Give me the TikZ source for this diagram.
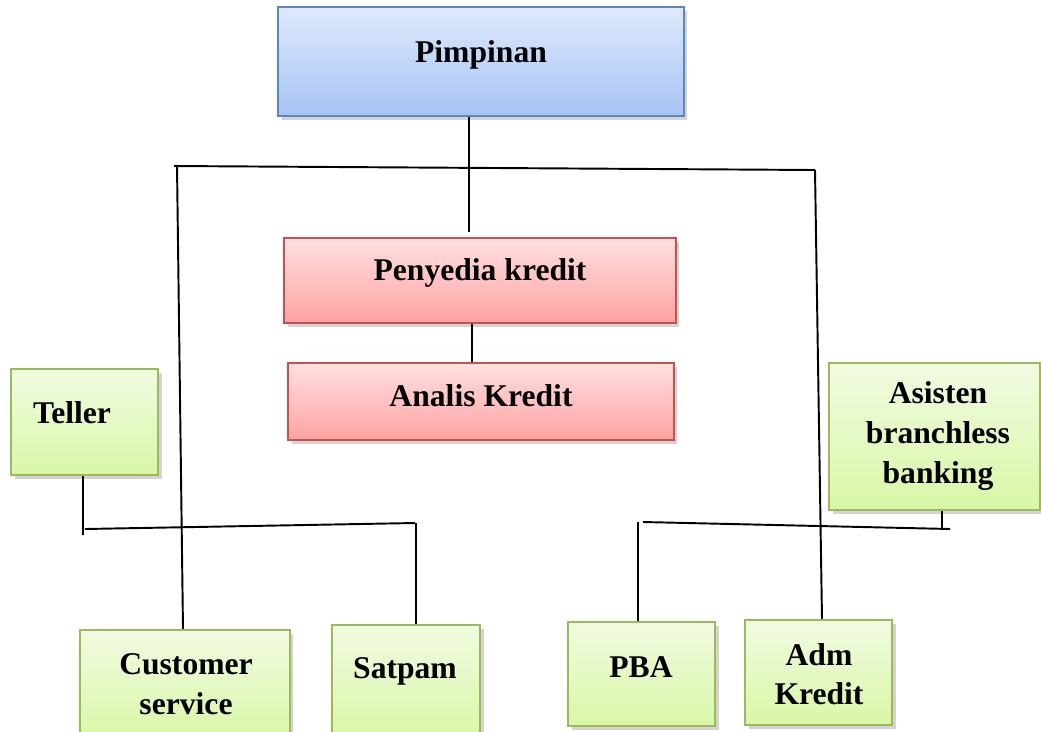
\documentclass[tikz,border=0pt]{standalone}
\usepackage{fontspec}
\setmainfont{Liberation Serif}
\usetikzlibrary{shadows}

\definecolor{blueTop}{HTML}{DFE9FB}
\definecolor{blueBot}{HTML}{A6C3F5}
\definecolor{blueLine}{HTML}{5B87BF}
\definecolor{redTop}{HTML}{FFE0E0}
\definecolor{redBot}{HTML}{FFA2A2}
\definecolor{redLine}{HTML}{C9504F}
\definecolor{greenTop}{HTML}{F1FBE2}
\definecolor{greenBot}{HTML}{D9F7A6}
\definecolor{greenLine}{HTML}{9BBB59}

\tikzset{
  box/.style={draw, rectangle, inner sep=0pt, line width=1.2pt,
    drop shadow={opacity=0.35, shadow xshift=2pt, shadow yshift=-2pt}},
  bluebox/.style={box, draw=blueLine, top color=blueTop, bottom color=blueBot},
  redbox/.style={box, draw=redLine, top color=redTop, bottom color=redBot},
  greenbox/.style={box, draw=greenLine, top color=greenTop, bottom color=greenBot},
  caption/.style={font=\bfseries\fontsize{18}{22.5}\selectfont, align=center, inner sep=0pt},
  link/.style={line width=1.1pt}
}

\begin{document}
\begin{tikzpicture}[x=0.02cm, y=-0.02cm]
    \useasboundingbox (0,0) rectangle (1041,731);

    % boxes
    \node[bluebox, minimum width=8.12cm, minimum height=2.18cm] (pimpinan) at (481,61.5) {};
    \node[redbox, minimum width=7.84cm, minimum height=1.70cm] (penyedia) at (480,280.5) {};
    \node[redbox, minimum width=7.72cm, minimum height=1.54cm] (analis) at (481,401.5) {};
    \node[greenbox, minimum width=2.94cm, minimum height=2.12cm] (teller) at (84.5,422) {};
    \node[greenbox, minimum width=4.22cm, minimum height=2.94cm] (asisten) at (934.5,436.5) {};
    \node[greenbox, minimum width=4.20cm, minimum height=2.20cm] (cs) at (185,685) {};
    \node[greenbox, minimum width=2.96cm, minimum height=2.30cm] (satpam) at (406,682.5) {};
    \node[greenbox, minimum width=2.94cm, minimum height=2.08cm] (pba) at (641.5,674) {};
    \node[greenbox, minimum width=2.94cm, minimum height=2.10cm] (adm) at (818.5,672.5) {};

    % texts
    \node[caption] (pimpinanT) at (481,55) {Pimpinan};
    \node[caption] (penyediaT) at (480,273) {Penyedia kredit};
    \node[caption] (analisT) at (481,396) {Analis Kredit};
    \node[caption] (tellerT) at (72,413) {Teller};
    \node[caption] (asistenT) at (938,436) {Asisten\\branchless\\banking};
    \node[caption] (csT) at (186,684) {Customer\\service};
    \node[caption] (satpamT) at (405,671) {Satpam};
    \node[caption] (pbaT) at (641,667) {PBA};
    \node[caption] (admT) at (819,674) {Adm\\Kredit};

    % top bar
    \coordinate (barL) at (174,166);
    \coordinate (barR) at (815,170);
    \draw[link] (barL) -- (barR);
    \draw[link] ([xshift=-0.24cm]pimpinan.south) -- ([xshift=-0.22cm, yshift=0.1cm]penyedia.north);
    \draw[link] ([xshift=-0.16cm]penyedia.south) -- ([xshift=-0.18cm]analis.north);
    \draw[link] ([xshift=0.06cm]barL) -- ([xshift=-0.04cm]cs.north);
    \draw[link] (barR) -- ([xshift=0.07cm]adm.north);

    % left group
    \coordinate (tellerEnd) at (83,535);
    \coordinate (leftL) at (85,529);
    \coordinate (leftR) at (415,523);
    \draw[link] ([xshift=-0.03cm]teller.south) -- (tellerEnd);
    \draw[link] (leftL) -- (leftR);
    \draw[link] ([xshift=0.02cm]leftR) -- ([xshift=0.2cm]satpam.north);

    % right group
    \coordinate (rightL) at (643,522);
    \coordinate (rightR) at (950,529);
    \draw[link] (rightL) -- (rightR);
    \draw[link] ([xshift=0.15cm]asisten.south) -- ([xshift=0.15cm]asisten.south |- rightR);
    \draw[link] ([xshift=-0.1cm]rightL) -- ([xshift=-0.07cm]pba.north);
\end{tikzpicture}
\end{document}
